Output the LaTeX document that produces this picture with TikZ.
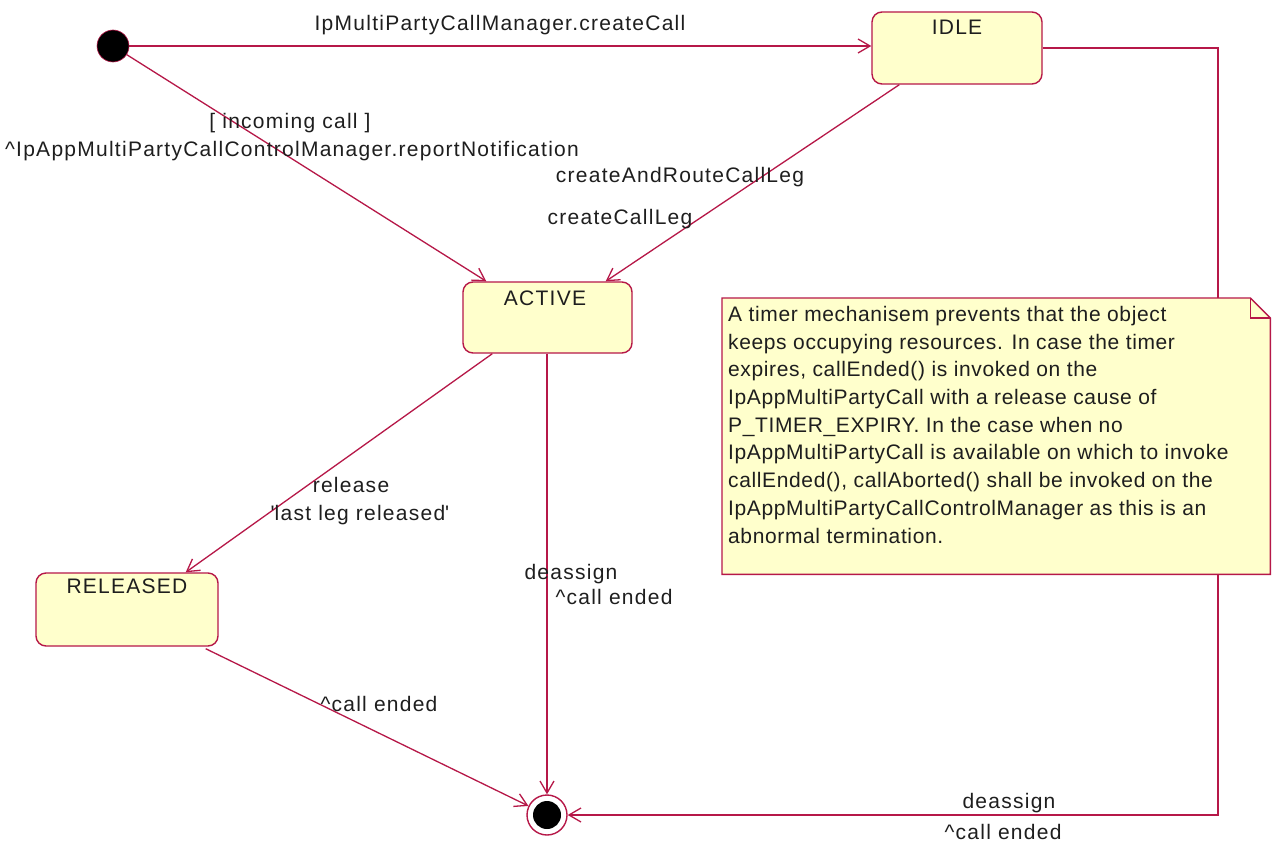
\documentclass[tikz,border=0pt]{standalone}
\usepackage{fontspec}
\setmainfont{Liberation Sans}
\newfontfamily\lblfont{Liberation Sans}[LetterSpace=6]
\newfontfamily\notefont{Liberation Sans}[LetterSpace=3]
\usetikzlibrary{arrows.meta,calc}
\definecolor{umlred}{RGB}{182,24,72}
\definecolor{umlfill}{RGB}{255,255,204}
\definecolor{txt}{RGB}{30,30,30}
\begin{document}
\begin{tikzpicture}[x=1pt,y=-1pt,
  statebox/.style={draw=umlred, line width=1.4pt, fill=umlfill, rounded corners=10pt, rectangle},
  conn/.style={draw=umlred, line width=1.3pt, -{Straight Barb[length=12pt,width=14pt,line width=1.3pt]}},
  lbl/.style={text=txt, font=\lblfont\fontsize{21}{24}\selectfont, inner sep=0pt}
]
\useasboundingbox (0,0) rectangle (1273,843);
\fill[white] (0,0) rectangle (1273,843);

% states
\node[circle, fill=black, draw=umlred, line width=0.6pt, minimum size=32pt, inner sep=0pt] (init) at (113,46) {};
\node[statebox, minimum width=170pt, minimum height=72pt] (idle) at (957,48) {};
\node[lbl] (idlet) at (957,27) {IDLE};
\node[statebox, minimum width=169pt, minimum height=71pt] (active) at (547.5,317.5) {};
\node[lbl] (activet) at (545,298) {ACTIVE};
\node[statebox, minimum width=182pt, minimum height=73pt] (released) at (127,609.5) {};
\node[lbl] (releasedt) at (127,586) {RELEASED};
\node[circle, draw=umlred, line width=1.4pt, fill=white, minimum size=40pt, inner sep=0pt] (final) at (547,815) {};
\node[circle, fill=black, minimum size=28pt, inner sep=0pt] (finalin) at (final) {};

% connectors
\draw[conn] (init.east) -- (idle.west |- init.east);
\draw[conn] (init) -- ($(active.north west)+(24,0)$);
\draw[conn] ($(idle.south west)+(28,0)$) -- ($(active.north east)+(-27,0)$);
\draw[conn] ($(active.south west)+(30,0)$) -- ($(released.north east)+(-33,0)$);
\draw[conn] (active.south -| final.north) -- (final.north);
\draw[conn] ($(released.south east)+(-13,2)$) -- (final);
\coordinate (c1) at (1218,48);
\coordinate (c2) at (1218,815);
\draw[conn] (idle.east) -- (c1) -- (c2) -- (final.east);

% labels
\node[lbl] (l1) at (500,25) {IpMultiPartyCallManager.createCall};
\node[lbl] (l2) at (290,123) {[ incoming call ]};
\node[lbl] (l3) at (292,151) {\textasciicircum IpAppMultiPartyCallControlManager.reportNotification};
\node[lbl] (l4) at (680,177) {createAndRouteCallLeg};
\node[lbl] (l5) at (620,219) {createCallLeg};
\node[lbl] (l6) at (351,485) {release};
\node[lbl] (l7) at (360,515) {\textquotesingle last leg released\textquotesingle};
\node[lbl] (l8) at (571,574) {deassign};
\node[lbl] (l9) at (614,597) {\textasciicircum call ended};
\node[lbl] (l10) at (379,704) {\textasciicircum call ended};
\node[lbl] (l11) at (1009,803) {deassign};
\node[lbl] (l12) at (1003,832) {\textasciicircum call ended};

% note
\node[minimum width=548pt, minimum height=276pt, anchor=north west, inner sep=0pt] (note) at (722,298) {};
\filldraw[draw=umlred, line width=1.4pt, fill=umlfill]
  (note.north west) -- ($(note.north east)+(-20,0)$) -- ($(note.north east)+(0,20)$) -- (note.south east) -- (note.south west) -- cycle;
\draw[umlred, line width=1.4pt] ($(note.north east)+(-20,0)$) -- ($(note.north east)+(-20,20)$) -- ($(note.north east)+(0,20)$);
\node[text=txt, inner sep=0pt, anchor=north west, align=left, font=\notefont\fontsize{21}{27.7}\selectfont] (notet) at (728,306) {%
A timer mechanisem prevents that the object\\
keeps occupying resources.  In case the timer\\
expires, callEnded() is invoked on the\\
IpAppMultiPartyCall with a release cause of\\
P\_TIMER\_EXPIRY.  In the case when no\\
IpAppMultiPartyCall is available on which to invoke\\
callEnded(), callAborted() shall be invoked on the\\
IpAppMultiPartyCallControlManager as this is an\\
abnormal termination.};
\end{tikzpicture}
\end{document}
